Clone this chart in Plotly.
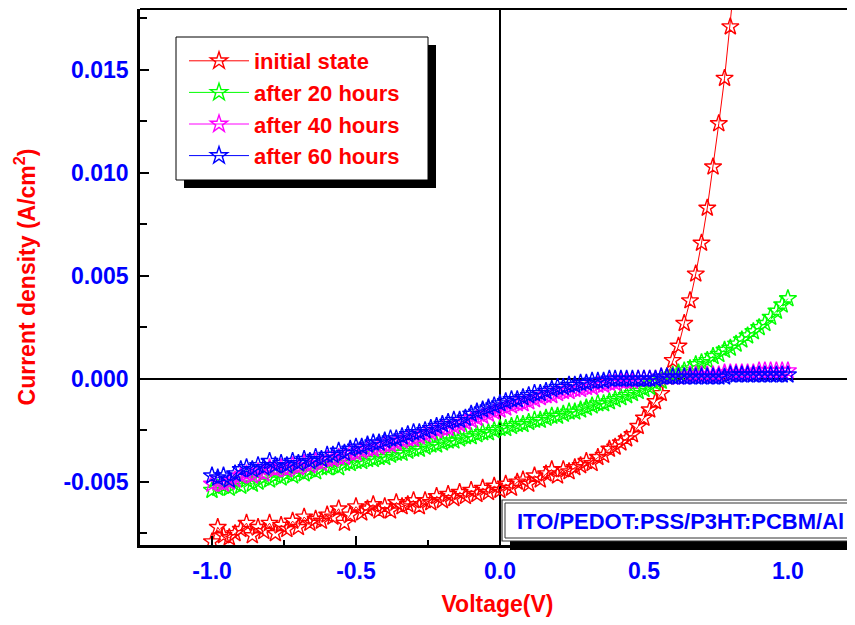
import plotly.graph_objects as go

voltage = [
    -1.00, -0.98, -0.96, -0.94, -0.92, -0.90, -0.88, -0.86, -0.84, -0.82,
    -0.80, -0.78, -0.76, -0.74, -0.72, -0.70, -0.68, -0.66, -0.64, -0.62,
    -0.60, -0.58, -0.56, -0.54, -0.52, -0.50, -0.48, -0.46, -0.44, -0.42,
    -0.40, -0.38, -0.36, -0.34, -0.32, -0.30, -0.28, -0.26, -0.24, -0.22,
    -0.20, -0.18, -0.16, -0.14, -0.12, -0.10, -0.08, -0.06, -0.04, -0.02,
    0.00, 0.02, 0.04, 0.06, 0.08, 0.10, 0.12, 0.14, 0.16, 0.18,
    0.20, 0.22, 0.24, 0.26, 0.28, 0.30, 0.32, 0.34, 0.36, 0.38,
    0.40, 0.42, 0.44, 0.46, 0.48, 0.50, 0.52, 0.54, 0.56, 0.58,
    0.60, 0.62, 0.64, 0.66, 0.68, 0.70, 0.72, 0.74, 0.76, 0.78,
    0.80, 0.82, 0.84, 0.86, 0.88, 0.90, 0.92, 0.94, 0.96, 0.98,
    1.00,
]

initial_state = [
    -0.0079, -0.0072, -0.0076, -0.0077, -0.0075, -0.0073, -0.0070, -0.0076, -0.0072, -0.0074,
    -0.0070, -0.0075, -0.0071, -0.0073, -0.0069, -0.0072, -0.0067, -0.0070, -0.0068, -0.0069,
    -0.0066, -0.0067, -0.0063, -0.0070, -0.0066, -0.0062, -0.0065, -0.0063, -0.0061, -0.0064,
    -0.0062, -0.0064, -0.0060, -0.0062, -0.0061, -0.0059, -0.0062, -0.0059, -0.0060, -0.0057,
    -0.0059, -0.0056, -0.0058, -0.0055, -0.0057, -0.0054, -0.0056, -0.0053, -0.0055, -0.0052,
    -0.0054, -0.0051, -0.0053, -0.0050, -0.0049, -0.0051, -0.0047, -0.0049, -0.0046, -0.0044,
    -0.0047, -0.0044, -0.0045, -0.0043, -0.0042, -0.0040, -0.0041, -0.0038, -0.0037, -0.0034,
    -0.0033, -0.0031, -0.0029, -0.0027, -0.0023, -0.0019, -0.0015, -0.0011, -0.0007, 0.0001,
    0.0009, 0.0016, 0.0027, 0.0038, 0.0051, 0.0066, 0.0083, 0.0103, 0.0124, 0.0146,
    0.0171, 0.0199, 0.0229, 0.0262, 0.0298, 0.0337, 0.0379, 0.0424, 0.0472, 0.0523,
    0.0577,
]

after_20h = [
    -0.0054, -0.0053, -0.0052, -0.0053, -0.0051, -0.0052, -0.0049, -0.0051, -0.0050, -0.0048,
    -0.0049, -0.0047, -0.0048, -0.0046, -0.0047, -0.0045, -0.0046, -0.0044, -0.0045, -0.0043,
    -0.0043, -0.0042, -0.0043, -0.0041, -0.0041, -0.0040, -0.0040, -0.0039, -0.0039, -0.0038,
    -0.0038, -0.0037, -0.0036, -0.0036, -0.0035, -0.0034, -0.0034, -0.0033, -0.0032, -0.0032,
    -0.0031, -0.0030, -0.0030, -0.0029, -0.0028, -0.0028, -0.0027, -0.0026, -0.0026, -0.0025,
    -0.0024, -0.0024, -0.0023, -0.0022, -0.0022, -0.0021, -0.0020, -0.0020, -0.0019, -0.0018,
    -0.0018, -0.0017, -0.0016, -0.0016, -0.0015, -0.0014, -0.0013, -0.0012, -0.0012, -0.0011,
    -0.0010, -0.0009, -0.0008, -0.0007, -0.0006, -0.0005, -0.0004, -0.0002, -0.0001, 0.0001,
    0.0002, 0.0003, 0.0004, 0.0005, 0.0007, 0.0008, 0.0009, 0.0011, 0.0012, 0.0014,
    0.0015, 0.0017, 0.0019, 0.0021, 0.0023, 0.0025, 0.0027, 0.0030, 0.0033, 0.0036,
    0.0039,
]

after_40h = [
    -0.0051, -0.0050, -0.0051, -0.0050, -0.0049, -0.0047, -0.0046, -0.0047, -0.0045, -0.0046,
    -0.0043, -0.0044, -0.0043, -0.0044, -0.0042, -0.0043, -0.0041, -0.0042, -0.0040, -0.0041,
    -0.0039, -0.0039, -0.0038, -0.0038, -0.0036, -0.0036, -0.0035, -0.0034, -0.0034, -0.0033,
    -0.0032, -0.0032, -0.0031, -0.0030, -0.0029, -0.0029, -0.0028, -0.0027, -0.0026, -0.0025,
    -0.0024, -0.0024, -0.0023, -0.0022, -0.0021, -0.0020, -0.0019, -0.0018, -0.0017, -0.0016,
    -0.0015, -0.0014, -0.0013, -0.0012, -0.0012, -0.0011, -0.0010, -0.0009, -0.0008, -0.0008,
    -0.0007, -0.0006, -0.0006, -0.0005, -0.0005, -0.0004, -0.0004, -0.0003, -0.0003, -0.0002,
    -0.0002, -0.0001, -0.0001, -0.0001, 0.0000, 0.0000, 0.0000, 0.0000, 0.0001, 0.0001,
    0.0001, 0.0001, 0.0001, 0.0002, 0.0002, 0.0002, 0.0002, 0.0002, 0.0002, 0.0003,
    0.0003, 0.0003, 0.0003, 0.0003, 0.0003, 0.0004, 0.0004, 0.0004, 0.0004, 0.0004,
    0.0004,
]

after_60h = [
    -0.0047, -0.0048, -0.0047, -0.0049, -0.0046, -0.0044, -0.0043, -0.0044, -0.0042, -0.0043,
    -0.0040, -0.0042, -0.0041, -0.0042, -0.0040, -0.0041, -0.0039, -0.0040, -0.0038, -0.0039,
    -0.0037, -0.0037, -0.0035, -0.0036, -0.0034, -0.0033, -0.0033, -0.0032, -0.0031, -0.0031,
    -0.0030, -0.0029, -0.0029, -0.0028, -0.0027, -0.0026, -0.0026, -0.0025, -0.0024, -0.0023,
    -0.0022, -0.0021, -0.0020, -0.0020, -0.0019, -0.0017, -0.0016, -0.0015, -0.0014, -0.0013,
    -0.0012, -0.0011, -0.0010, -0.0010, -0.0009, -0.0008, -0.0007, -0.0007, -0.0006, -0.0005,
    -0.0004, -0.0004, -0.0003, -0.0003, -0.0002, -0.0002, -0.0001, -0.0001, -0.0001, 0.0000,
    0.0000, 0.0000, 0.0000, 0.0000, 0.0000, 0.0000, 0.0000, 0.0000, 0.0001, 0.0001,
    0.0001, 0.0001, 0.0001, 0.0001, 0.0001, 0.0001, 0.0001, 0.0001, 0.0001, 0.0001,
    0.0002, 0.0002, 0.0002, 0.0002, 0.0002, 0.0002, 0.0002, 0.0002, 0.0002, 0.0002,
    0.0002,
]

series_names = ["initial state", "after 20 hours", "after 40 hours", "after 60 hours"]
series_values = [initial_state, after_20h, after_40h, after_60h]
series_colors = ["#FF0000", "#00FF00", "#FF00FF", "#0000FF"]

x_tickvals = [-1.0, -0.5, 0.0, 0.5, 1.0]
x_ticktext = ["-1.0", "-0.5", "0.0", "0.5", "1.0"]
y_tickvals = [-0.005, 0.0, 0.005, 0.010, 0.015]
y_ticktext = ["-0.005", "0.000", "0.005", "0.010", "0.015"]
device_label = "ITO/PEDOT:PSS/P3HT:PCBM/Al"

FONT = "Liberation Sans, Arial, sans-serif"

fig = go.Figure()
for name, vals, col in zip(series_names, series_values, series_colors):
    fig.add_trace(go.Scatter(
        x=voltage, y=vals, name=name, mode="lines+markers",
        line=dict(color=col, width=1),
        marker=dict(symbol="star-open", size=13, color=col, line=dict(width=1.4, color=col)),
    ))

# page is offset by the 8px body margin; plot area in page px: left 140, right 855, top 9, bottom 545
def px(xp):
    return (xp - 140) / 715.0

def py(yp):
    return (545 - yp) / 536.0

shapes = [
    dict(type="line", xref="paper", yref="paper", x0=0, x1=1, y0=1, y1=1,
         line=dict(color="black", width=2), layer="above"),
    # legend shadow + frame
    dict(type="rect", xref="paper", yref="paper", x0=px(184), x1=px(436), y0=py(188), y1=py(45),
         fillcolor="black", line=dict(width=0), layer="above"),
    dict(type="rect", xref="paper", yref="paper", x0=px(176), x1=px(428), y0=py(180), y1=py(37),
         fillcolor="white", line=dict(color="black", width=1), layer="above"),
    # device box shadow
    dict(type="rect", xref="paper", yref="paper", x0=px(510), x1=1.02, y0=py(550), y1=py(507),
         fillcolor="black", line=dict(width=0), layer="above"),
    # device box
    dict(type="rect", xref="paper", yref="paper", x0=px(502), x1=1.02, y0=py(541), y1=py(500),
         fillcolor="white", line=dict(color="#333333", width=1.2), layer="above"),
    dict(type="rect", xref="paper", yref="paper", x0=px(505), x1=1.02, y0=py(538), y1=py(503),
         fillcolor="rgba(0,0,0,0)", line=dict(color="#333333", width=1), layer="above"),
]

fig.update_layout(
    width=847, height=609,
    margin=dict(l=132, r=0, t=1, b=72, autoexpand=False),
    paper_bgcolor="white", plot_bgcolor="white",
    font=dict(family=FONT),
    showlegend=True,
    legend=dict(
        x=px(184), y=py(40), xanchor="left", yanchor="top",
        bgcolor="rgba(0,0,0,0)", borderwidth=0,
        font=dict(family=FONT, size=22, color="#FF0000", weight="bold"),
        tracegroupgap=0, itemwidth=60,
    ),
    shapes=shapes,
    annotations=[dict(
        xref="paper", yref="paper", x=px(680), y=py(521), xanchor="center", yanchor="middle",
        text=device_label, showarrow=False,
        font=dict(family=FONT, size=22, color="#0000FF", weight="bold"),
    )],
)

fig.update_xaxes(
    range=[-1.25, 1.233], showgrid=False,
    showline=True, linecolor="black", linewidth=2.5, mirror=False,
    zeroline=True, zerolinecolor="black", zerolinewidth=2,
    ticks="inside", ticklen=9, tickwidth=2, tickcolor="black",
    tickvals=x_tickvals, ticktext=x_ticktext,
    tickfont=dict(family=FONT, size=23, color="#0000FF", weight="bold"),
    ticklabelstandoff=4,
    minor=dict(dtick=0.25, tick0=0, ticks="inside", ticklen=5, tickwidth=2, tickcolor="black"),
    title=dict(text="Voltage(V)", standoff=20,
               font=dict(family=FONT, size=23, color="#FF0000", weight="bold")),
)
fig.update_yaxes(
    range=[-0.00806, 0.01796], showgrid=False,
    showline=True, linecolor="black", linewidth=2.5, mirror=False,
    zeroline=True, zerolinecolor="black", zerolinewidth=2,
    ticks="inside", ticklen=9, tickwidth=2, tickcolor="black",
    tickvals=y_tickvals, ticktext=y_ticktext,
    tickfont=dict(family=FONT, size=23, color="#0000FF", weight="bold"),
    ticklabelstandoff=4,
    minor=dict(dtick=0.0025, tick0=0, ticks="inside", ticklen=7, tickwidth=2, tickcolor="black"),
    title=dict(text="Current density (A/cm<sup>2</sup>)", standoff=22,
               font=dict(family=FONT, size=23, color="#FF0000", weight="bold")),
)

fig.write_html("out.html")
